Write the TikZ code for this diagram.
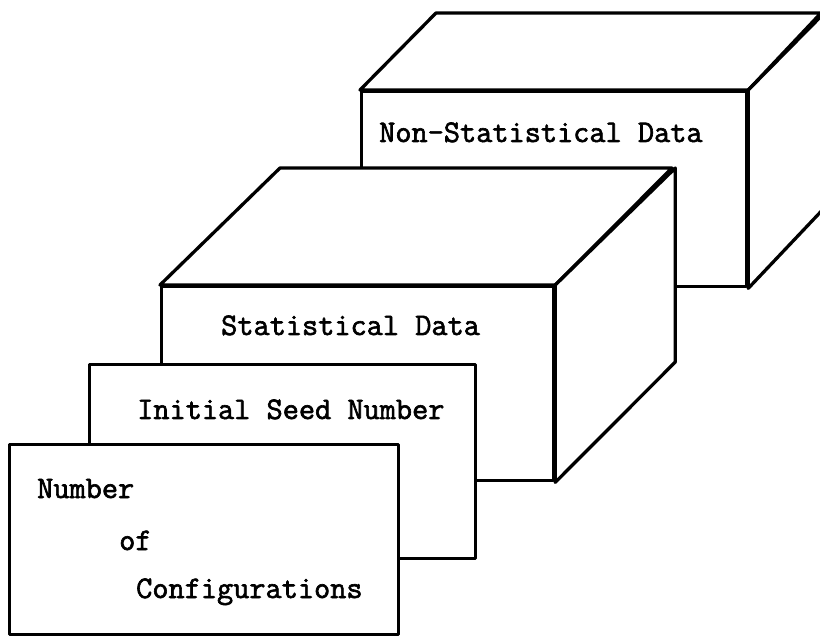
\documentclass[tikz,border=0pt]{standalone}
\usepackage{fontspec}
\newfontfamily\typefont{Latin Modern Mono}[FakeBold=2]
\usetikzlibrary{positioning}

\begin{document}
\begin{tikzpicture}[
            x=1pt,y=-1pt,
            face/.style={
              draw,
              fill=white,
              line width=3.3pt,
              line join=round,
              inner sep=0pt,
              anchor=north west
            },
            txt/.style={
              font=\typefont\fontsize{31.4}{36}\selectfont,
              inner sep=0pt,
              anchor=base west
            }
            ]
            \useasboundingbox (0,0) rectangle (820,636);
            % back block
            \node[face,minimum width=385pt,minimum height=195pt] at (360,90)
              (nonstat) {};
            \draw[face] (nonstat.north west) -- ++(76,-77) -- ++(385,0)
              -- (nonstat.north east) -- cycle;
            \draw[face] (nonstat.north east) -- ++(76,-77) -- ++(0,195)
              -- (nonstat.south east) -- cycle;
            \node[txt] at (379,142) (nonstattxt) {Non-Statistical Data};
            % middle block
            \node[face,minimum width=392pt,minimum height=194pt] at (160,285)
              (stat) {};
            \draw[face] (stat.north west) -- ++(120,-117) -- ++(392,0)
              -- (stat.north east) -- cycle;
            \draw[face] (stat.north east) -- ++(120,-117) -- ++(0,194)
              -- (stat.south east) -- cycle;
            \node[txt] at (221,335) (stattxt) {Statistical Data};
            % flat cards
            \node[face,minimum width=386pt,minimum height=194pt] at (88,363)
              (seed) {};
            \node[txt] at (137,419) (seedtxt) {Initial Seed Number};
            \node[face,minimum width=389pt,minimum height=190pt] at (8,443)
              (config) {};
            \node[txt] at (37,498) (cfg1) {Number};
            \node[txt] at (119,550) (cfg2) {of};
            \node[txt] at (136,598) (cfg3) {Configurations};
\end{tikzpicture}
\end{document}
